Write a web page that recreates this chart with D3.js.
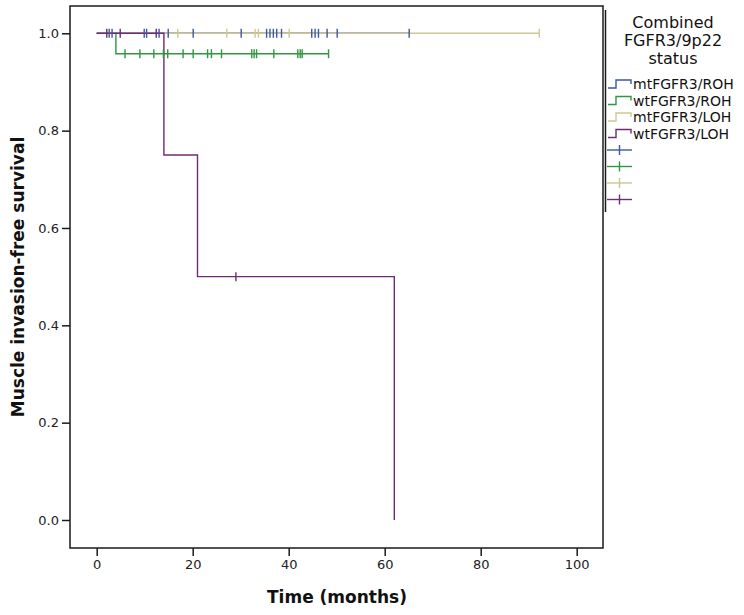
<!DOCTYPE html>
<html><head><meta charset="utf-8">
<script src="https://cdn.jsdelivr.net/npm/d3@7"></script>
<style>body{margin:0;background:#fff}svg{display:block}</style>
</head><body>
<svg id="c" width="744" height="615"></svg>
<script>
// ---- data ----
const groups = ["mtFGFR3/ROH", "wtFGFR3/ROH", "mtFGFR3/LOH", "wtFGFR3/LOH"];
const colors = ["#3d56a6", "#2f973f", "#cdc892", "#6f2b74"];
// step functions: times (months) and survival after each time
const mtROH_time = [0, 65.1];        const mtROH_surv = [1.0, 1.0];
const wtROH_time = [0, 4, 48.3];     const wtROH_surv = [1.0, 0.958, 0.958];
const mtLOH_time = [0, 92.2];        const mtLOH_surv = [1.0, 1.0];
const wtLOH_time = [0, 14, 21, 62];  const wtLOH_surv = [1.0, 0.75, 0.5, 0.0];
// censored observations (months)
const mtROH_cens = [2.6, 3.2, 9.9, 10.4, 13.0, 14.9, 20.1, 30.1, 35.4, 36.1, 36.8, 37.5, 38.5, 44.8, 45.5, 46.2, 48.0, 50.1, 65.1];
const wtROH_cens = [5.9, 9.0, 11.9, 13.9, 14.8, 18.0, 20.1, 23.1, 23.9, 26.0, 32.3, 32.8, 33.3, 36.9, 41.9, 42.4, 42.8, 48.3];
const mtLOH_cens = [16.9, 27.1, 33.0, 33.7, 40.1, 92.2];
const wtLOH_cens = [2.1, 4.9, 12.4, 29.0];
const xTicks = [0, 20, 40, 60, 80, 100];
const yTicks = [0, 0.2, 0.4, 0.6, 0.8, 1.0];

const series = [
  {t: mtROH_time, s: mtROH_surv, c: mtROH_cens},
  {t: wtROH_time, s: wtROH_surv, c: wtROH_cens},
  {t: mtLOH_time, s: mtLOH_surv, c: mtLOH_cens},
  {t: wtLOH_time, s: wtLOH_surv, c: wtLOH_cens}
];

// ---- layout ----
const svg = d3.select("#c");
const frame = {l: 70, r: 603, t: 6, b: 548};
const x = d3.scaleLinear().domain([0, 100]).range([96.7, 576.7]);
const y = d3.scaleLinear().domain([0, 1]).range([520, 33.3]);
const font = "'DejaVu Sans', 'Liberation Sans', sans-serif";

// frame
svg.append("rect").attr("x", frame.l).attr("y", frame.t)
  .attr("width", frame.r - frame.l).attr("height", frame.b - frame.t)
  .attr("fill", "none").attr("stroke", "#1a1a1a").attr("stroke-width", 1.5);

// axes
const gx = svg.append("g").attr("transform", `translate(0,${frame.b})`)
  .call(d3.axisBottom(x).tickValues(xTicks).tickSize(8).tickPadding(4).tickFormat(d3.format("d")));
const gy = svg.append("g").attr("transform", `translate(${frame.l},0)`)
  .call(d3.axisLeft(y).tickValues(yTicks).tickSize(8).tickPadding(3).tickFormat(d3.format(".1f")));
[gx, gy].forEach(g => {
  g.select(".domain").remove();
  g.selectAll(".tick line").attr("stroke", "#1a1a1a").attr("stroke-width", 1.5);
  g.selectAll(".tick text").attr("fill", "#222").style("font-family", font).style("font-size", "13px");
});

// curves
const line = d3.line().x(d => x(d[0])).y(d => y(d[1])).curve(d3.curveStepAfter);
function survAt(sr, t) {
  let v = sr.s[0];
  for (let i = 0; i < sr.t.length; i++) if (sr.t[i] <= t) v = sr.s[i];
  return v;
}
series.forEach((sr, i) => {
  svg.append("path").datum(sr.t.map((t, j) => [t, sr.s[j]]))
    .attr("d", line).attr("fill", "none").attr("stroke", colors[i]).attr("stroke-width", 1.4);
});
series.forEach((sr, i) => {
  svg.append("g").selectAll("line").data(sr.c).join("line")
    .attr("x1", d => x(d)).attr("x2", d => x(d))
    .attr("y1", d => y(survAt(sr, d)) - 4.5).attr("y2", d => y(survAt(sr, d)) + 4.5)
    .attr("stroke", colors[i]).attr("stroke-width", 1.4);
});

// axis titles
svg.append("text").attr("x", 337).attr("y", 603).attr("text-anchor", "middle")
  .style("font-family", font).style("font-size", "17px").style("font-weight", "bold").attr("fill", "#111")
  .text("Time (months)");
svg.append("text").attr("transform", "translate(24,277) rotate(-90)").attr("text-anchor", "middle")
  .style("font-family", font).style("font-size", "17px").style("font-weight", "bold").attr("fill", "#111")
  .text("Muscle invasion-free survival");

// legend
svg.append("line").attr("x1", 605.5).attr("x2", 605.5).attr("y1", 10).attr("y2", 212)
  .attr("stroke", "#1a1a1a").attr("stroke-width", 1.5);
const lt = ["Combined", "FGFR3/9p22", "status"];
lt.forEach((t, i) => svg.append("text").attr("x", 673).attr("y", 28 + i * 18).attr("text-anchor", "middle")
  .style("font-family", font).style("font-size", "16px").attr("fill", "#111").text(t));
const rowY = i => 84 + i * 16.5;
groups.forEach((g, i) => {
  const r = rowY(i);
  svg.append("path").attr("d", `M608,${r + 4}H616V${r - 4}H631V${r}`)
    .attr("fill", "none").attr("stroke", colors[i]).attr("stroke-width", 1.4);
  svg.append("text").attr("x", 633).attr("y", r + 5)
    .style("font-family", font).style("font-size", "14px").attr("fill", "#111").text(g);
});
groups.forEach((g, i) => {
  const r = rowY(i + 4);
  svg.append("line").attr("x1", 607).attr("x2", 632).attr("y1", r).attr("y2", r)
    .attr("stroke", colors[i]).attr("stroke-width", 1.4);
  svg.append("line").attr("x1", 619.5).attr("x2", 619.5).attr("y1", r - 5).attr("y2", r + 5)
    .attr("stroke", colors[i]).attr("stroke-width", 1.4);
});
</script>
</body></html>
